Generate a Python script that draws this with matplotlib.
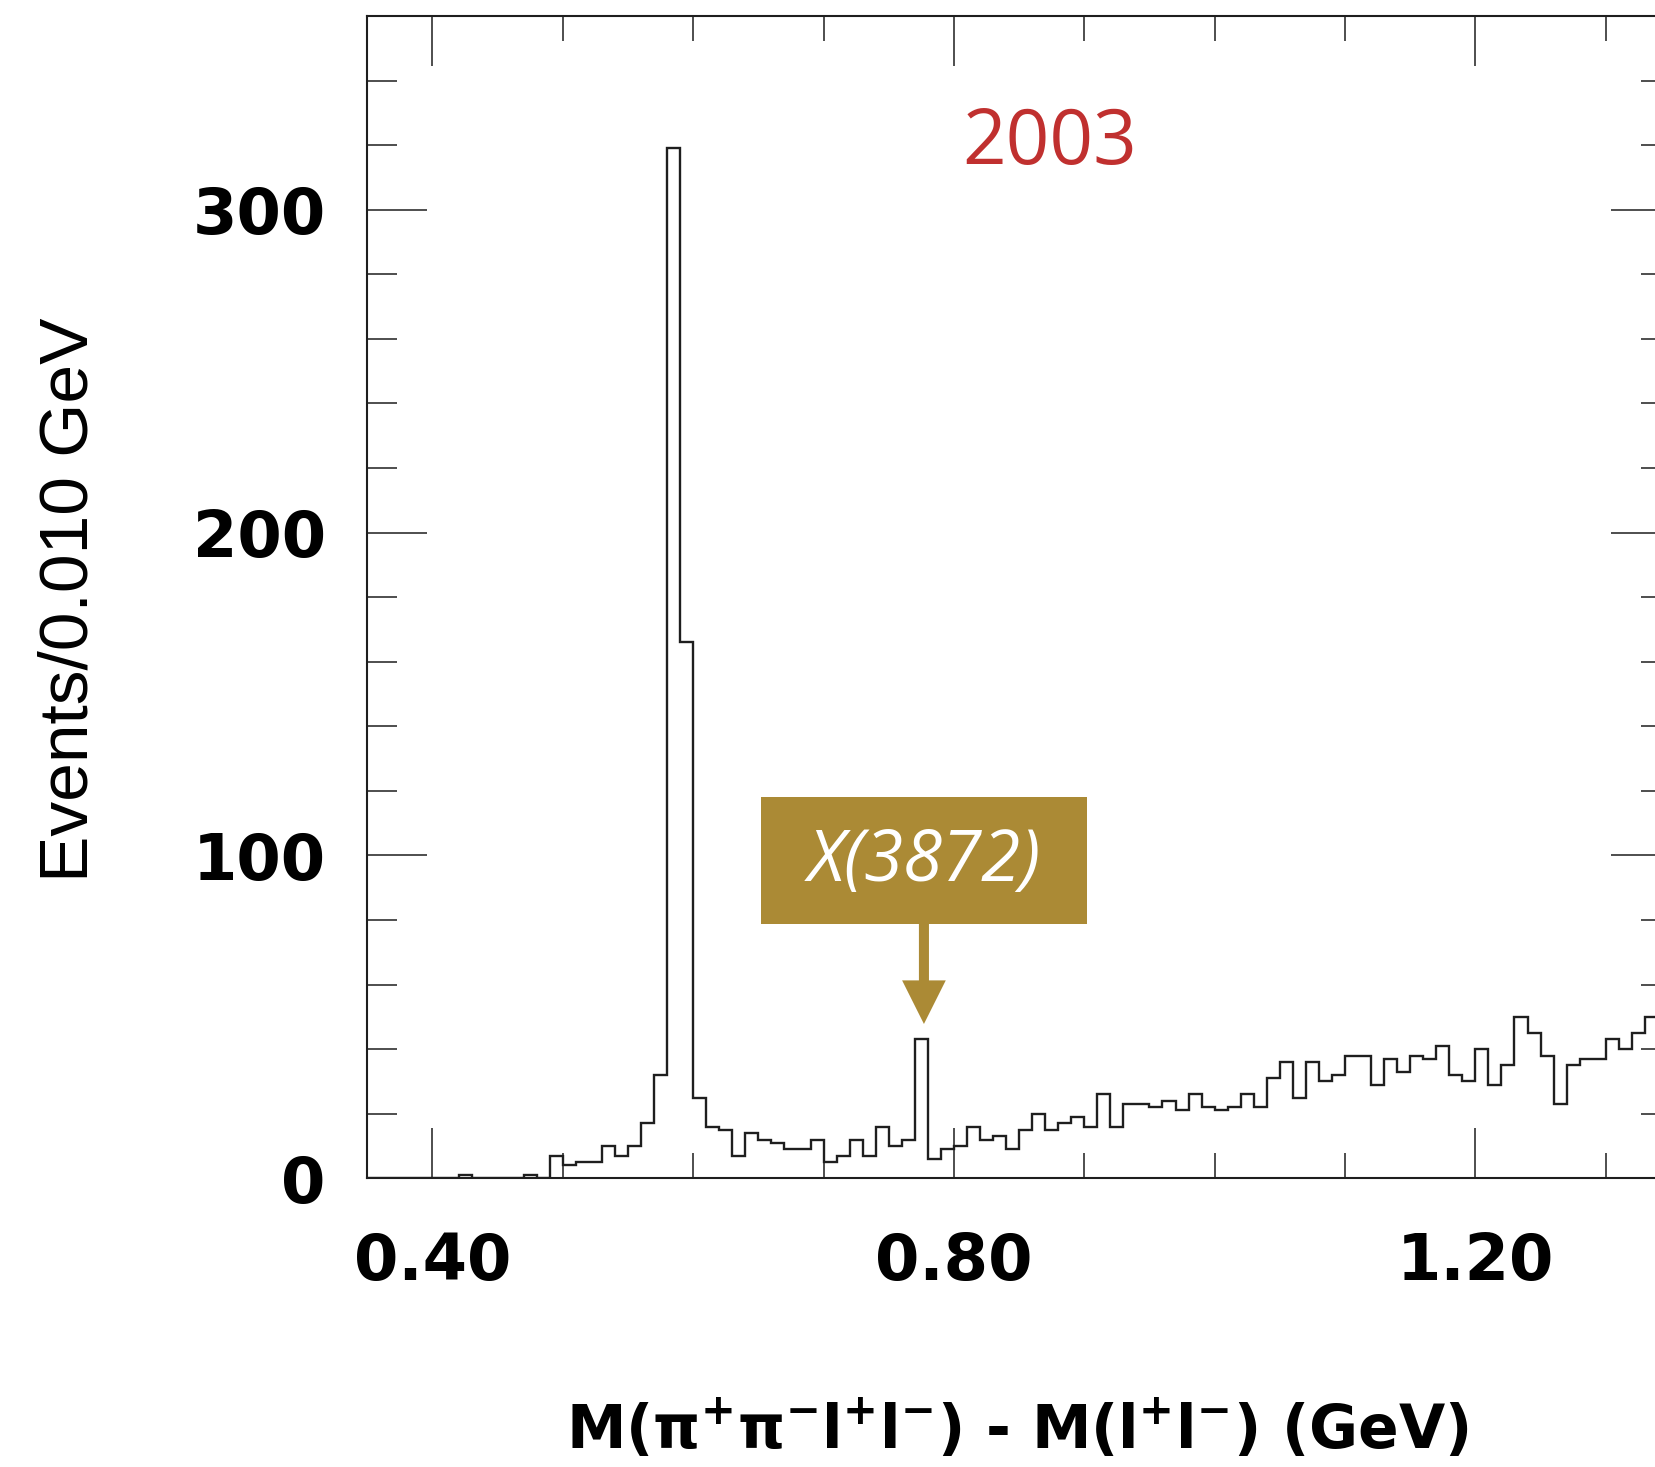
import numpy as np
import matplotlib
matplotlib.use("Agg")
import matplotlib.pyplot as plt
from matplotlib.ticker import MultipleLocator, FixedLocator
from matplotlib.patches import Rectangle, FancyArrow

# ---------------- data ----------------
bin_start = 0.35
bin_width = 0.01
counts = [
    0, 0, 0, 0, 0, 0, 0, 1, 0, 0,
    0, 0, 1, 0, 7, 4, 5, 5, 10, 7,
    10, 17, 32, 319, 166, 25, 16, 15, 7, 14,
    12, 11, 9, 9, 12, 5, 7, 12, 7, 16,
    10, 12, 43, 6, 9, 10, 16, 12, 13, 9,
    15, 20, 15, 17, 19, 16, 26, 16, 23, 23,
    22, 24, 21, 26, 22, 21, 22, 26, 22, 31,
    36, 25, 36, 30, 32, 38, 38, 29, 37, 33,
    38, 37, 41, 32, 30, 40, 29, 35, 50, 45,
    38, 23, 35, 37, 37, 43, 40, 45, 50, 48,
]
x_major_ticks = [0.40, 0.80, 1.20]
x_tick_labels = ["0.40", "0.80", "1.20"]
y_major_ticks = [0, 100, 200, 300]
y_tick_labels = ["0", "100", "200", "300"]
year_label = "2003"
peak_label = "X(3872)"
peak_bin = 42
xlabel = r"M($\mathregular{\pi^{+}\pi^{-}l^{+}l^{-}}$) - M($\mathregular{l^{+}l^{-}}$) (GeV)"
ylabel = "Events/0.010 GeV"

edges = bin_start + bin_width * np.arange(len(counts) + 1)

# ---------------- figure ----------------
W, H = 1655, 1467
fig = plt.figure(figsize=(W / 100, H / 100), dpi=100)
ax = fig.add_axes([367.3 / W, (H - 1178.3) / H, 1303.6 / W, 1162.3 / H])
ax.set_xlim(0.35, 1.35)
ax.set_ylim(0, 360)

ax.stairs(counts, edges, color="#1e1e1e", linewidth=1.7)

for s in ax.spines.values():
    s.set_linewidth(1.5)
    s.set_color("#1e1e1e")

ax.xaxis.set_major_locator(FixedLocator(x_major_ticks))
ax.set_xticklabels(x_tick_labels)
ax.xaxis.set_minor_locator(MultipleLocator(0.1))
ax.yaxis.set_major_locator(FixedLocator(y_major_ticks))
ax.set_yticklabels(y_tick_labels)
ax.yaxis.set_minor_locator(MultipleLocator(20))

tick_font = dict(family="DejaVu Sans", weight="bold", size=46)
ax.tick_params(which="both", direction="in", top=True, right=True,
               width=1.1, color="#1e1e1e")
ax.xaxis.set_tick_params(which="major", length=36, pad=38)
ax.xaxis.set_tick_params(which="minor", length=18)
ax.yaxis.set_tick_params(which="major", length=43, pad=30)
ax.yaxis.set_tick_params(which="minor", length=21.5)
for lab in ax.get_xticklabels() + ax.get_yticklabels():
    lab.set_fontfamily(tick_font["family"])
    lab.set_fontweight(tick_font["weight"])
    lab.set_fontsize(tick_font["size"])

plt.rcParams["mathtext.fontset"] = "dejavusans"
ax.set_xlabel(xlabel, family="DejaVu Sans", weight="bold", size=43)
ax.xaxis.set_label_coords(0.499, -0.2166)
ax.xaxis.label.set_va("center")

ax.set_ylabel(ylabel, family=["Liberation Sans Narrow", "Liberation Sans"], size=50)
ax.yaxis.set_label_coords(-0.2288, 0.4976)
ax.yaxis.label.set_va("center")

# year label
ax.text(0.8737, 320.5, year_label, color="#c0302f", fontsize=55,
        family=["Open Sans", "DejaVu Sans"], ha="center", va="center")

# annotation box + arrow
gold = "#ab8a35"
xc = edges[peak_bin] + bin_width / 2 + 0.002
box_w, box_y0, box_y1 = 0.250, 78.9, 118.1
ax.add_patch(Rectangle((xc - box_w / 2, box_y0), box_w, box_y1 - box_y0,
                       facecolor=gold, edgecolor="none", zorder=3))
ax.text(xc, (box_y0 + box_y1) / 2 - 0.6, peak_label, color="white", fontsize=51,
        style="italic", family=["Open Sans", "DejaVu Sans"],
        ha="center", va="center", zorder=4)
tip_y = 47.8
ax.add_patch(FancyArrow(xc, box_y0, 0, tip_y - box_y0, width=0.0077,
                        head_width=0.0335, head_length=13.5,
                        length_includes_head=True, facecolor=gold,
                        edgecolor="none", zorder=3))

fig.savefig("out.png", dpi=100)
